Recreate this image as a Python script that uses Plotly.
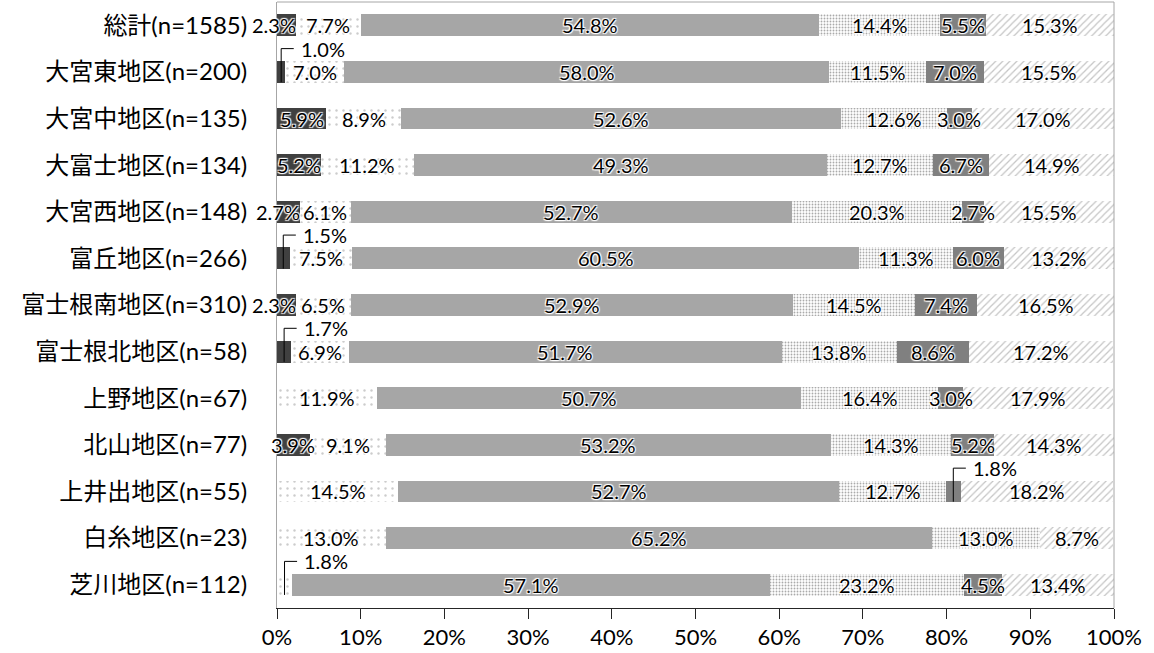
import plotly.graph_objects as go

# Survey response shares (%) by district, six answer groups stacked left to right
categories = [
    "総計(n=1585)", "大宮東地区(n=200)", "大宮中地区(n=135)", "大富士地区(n=134)",
    "大宮西地区(n=148)", "富丘地区(n=266)", "富士根南地区(n=310)", "富士根北地区(n=58)",
    "上野地区(n=67)", "北山地区(n=77)", "上井出地区(n=55)", "白糸地区(n=23)", "芝川地区(n=112)",
]
s1 = [2.3, 1.0, 5.9, 5.2, 2.7, 1.5, 2.3, 1.7, 0, 3.9, 0, 0, 0]
s2 = [7.7, 7.0, 8.9, 11.2, 6.1, 7.5, 6.5, 6.9, 11.9, 9.1, 14.5, 13.0, 1.8]
s3 = [54.8, 58.0, 52.6, 49.3, 52.7, 60.5, 52.9, 51.7, 50.7, 53.2, 52.7, 65.2, 57.1]
s4 = [14.4, 11.5, 12.6, 12.7, 20.3, 11.3, 14.5, 13.8, 16.4, 14.3, 12.7, 13.0, 23.2]
s5 = [5.5, 7.0, 3.0, 6.7, 2.7, 6.0, 7.4, 8.6, 3.0, 5.2, 1.8, 0, 4.5]
s6 = [15.3, 15.5, 17.0, 14.9, 15.5, 13.2, 16.5, 17.2, 17.9, 14.3, 18.2, 8.7, 13.4]
x_ticks = [0, 10, 20, 30, 40, 50, 60, 70, 80, 90, 100]

series = [s1, s2, s3, s4, s5, s6]

LATIN = "Lato, 'Noto Sans CJK JP', sans-serif"
HALO = "1px 1px 1px #fff, -1px -1px 1px #fff, 1px -1px 1px #fff, -1px 1px 1px #fff"
CALLOUT_MAX = 2.0   # segments narrower than this get a leader-line label
NARROW_MAX = 3.0    # leading segments this thin have their label pushed left
LABEL_FONT = dict(family=LATIN, size=20, color="#000000", shadow=HALO)

styles = [
    dict(color="#404040"),
    dict(color="#ffffff", pattern=dict(shape=".", fgcolor="#9a9a9a", bgcolor="#ffffff",
                                       size=7, solidity=0.1)),
    dict(color="#a6a6a6"),
    dict(color="#ffffff", pattern=dict(shape=".", fgcolor="#555555", bgcolor="#ffffff",
                                       size=3, solidity=0.3)),
    dict(color="#808080"),
    dict(color="#ffffff", pattern=dict(shape="/", fgcolor="#8c8c8c", bgcolor="#ffffff",
                                       size=5, solidity=0.25)),
]

ypos = list(range(len(categories)))

fig = go.Figure()
for vals, st in zip(series, styles):
    fig.add_trace(go.Bar(
        x=vals, y=ypos, orientation="h", width=0.47,
        marker=dict(line=dict(width=0), **st),
        hoverinfo="skip",
    ))

# value labels: centred on each segment, or on a leader line for the thinnest ones
shapes = []
annotations = []
for row in ypos:
    start = 0.0
    for k, vals in enumerate(series):
        v = vals[row]
        if v <= 0:
            continue
        mid = start + v / 2
        text = f"{v:.1f}%"
        if v < CALLOUT_MAX:
            ly = row - 0.5
            shapes.append(dict(
                type="path", xref="x", yref="y",
                path=f"M {mid},{row + 0.22} L {mid},{ly} L {mid + 1.5},{ly}",
                line=dict(color="#000000", width=1),
            ))
            annotations.append(dict(
                x=mid + 2.1, y=ly, xref="x", yref="y", text=text,
                showarrow=False, xanchor="left", yanchor="middle", font=LABEL_FONT,
            ))
        elif k == 0 and v < NARROW_MAX:
            annotations.append(dict(
                x=start + v, y=row, xref="x", yref="y", text=text, xshift=2,
                showarrow=False, xanchor="right", yanchor="middle", font=LABEL_FONT,
            ))
        else:
            annotations.append(dict(
                x=mid, y=row, xref="x", yref="y", text=text,
                showarrow=False, xanchor="center", yanchor="middle", font=LABEL_FONT,
            ))
        start += v

# gray frame on the top and right of the plot area
shapes.append(dict(type="line", xref="x domain", yref="y domain", x0=0, x1=1, y0=1, y1=1,
                   line=dict(color="#a6a6a6", width=1)))
shapes.append(dict(type="line", xref="x domain", yref="y domain", x0=1, x1=1, y0=0, y1=1,
                   line=dict(color="#a6a6a6", width=1)))

fig.update_layout(
    barmode="stack",
    width=1154, height=653,
    margin=dict(l=277, r=40, t=2, b=45),
    paper_bgcolor="#ffffff", plot_bgcolor="#ffffff",
    showlegend=False,
    shapes=shapes, annotations=annotations,
    xaxis=dict(
        range=[0, 100], tickvals=x_ticks, ticktext=[f"{t}%" for t in x_ticks],
        showgrid=False, zeroline=False,
        showline=True, linecolor="#262626", linewidth=1,
        ticks="outside", ticklen=10, tickcolor="#262626",
        tickfont=dict(family=LATIN, size=22, color="#000000"),
    ),
    yaxis=dict(
        tickvals=ypos, ticktext=categories, range=[len(categories) - 0.5, -0.5],
        showgrid=False, zeroline=False,
        showline=True, linecolor="#a6a6a6", linewidth=1,
        ticks="", ticklabelstandoff=24,
        tickfont=dict(family=LATIN, size=24, color="#000000"),
    ),
)

fig.write_html("out.html")
